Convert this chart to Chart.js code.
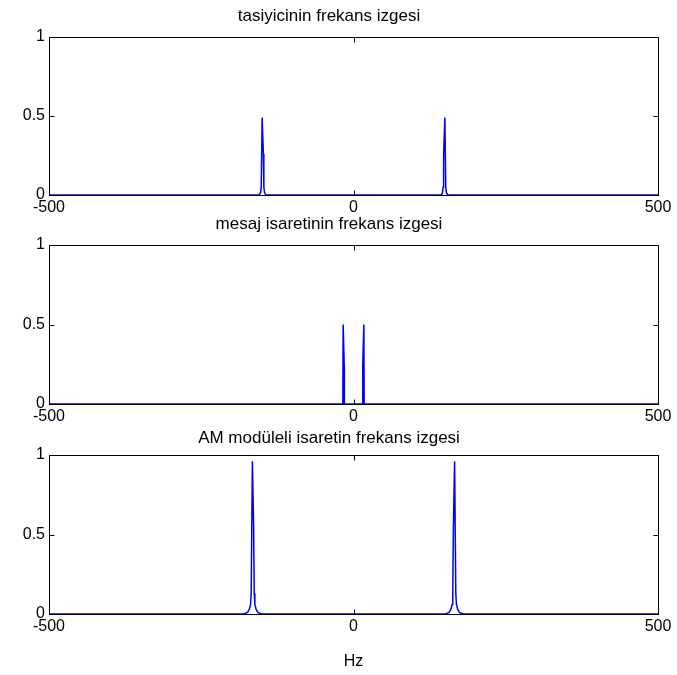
<!DOCTYPE html>
<html><head><meta charset="utf-8">
<script src="https://cdn.jsdelivr.net/npm/chart.js@4.4.1/dist/chart.umd.min.js"></script>
<style>
html,body{margin:0;padding:0;background:#fff;width:677px;height:675px;overflow:hidden;}
canvas{position:absolute;left:0;display:block;}
</style></head><body>
<canvas id="c1" width="677" height="225" style="top:0px;width:677px;height:225px"></canvas>
<canvas id="c2" width="677" height="228" style="top:205px;width:677px;height:228px"></canvas>
<canvas id="c3" width="677" height="260" style="top:415px;width:677px;height:260px"></canvas>
<script>
// ---- data ----
const titles = ["tasiyicinin frekans izgesi", "mesaj isaretinin frekans izgesi", "AM modüleli isaretin frekans izgesi"];
const xAxisTitle = "Hz";
const xTickValues = [-500, 0, 500];
const yTickValues = [0, 0.5, 1];

const carrierHz  = [-500, -155, -152.5, -151.5, -150, -148, -147.2, -146, -144, 144, 146, 147.2, 148, 150, 151.5, 152.5, 155, 500];
const carrierMag = [0, 0, 0.015, 0.05, 0.49, 0.26, 0.05, 0.015, 0, 0, 0.015, 0.05, 0.26, 0.49, 0.05, 0.015, 0, 0];

const messageHz  = [-500, -17.5, -17, -15.2, -15, 15, 15.2, 17, 17.5, 500];
const messageMag = [0, 0, 0.5, 0.24, 0, 0, 0.24, 0.5, 0, 0];

const amHz  = [-500, -180, -174, -171, -169, -168, -166, -164, -163, -162, -160, -157, -151,
               151, 157, 160, 162, 163, 164, 166, 168, 169, 171, 174, 180, 500];
const amMag = [0, 0, 0.01, 0.03, 0.06, 0.13, 0.96, 0.54, 0.13, 0.06, 0.03, 0.01, 0,
               0, 0.01, 0.03, 0.06, 0.13, 0.54, 0.96, 0.13, 0.06, 0.03, 0.01, 0, 0];

// ---- drawing ----
const FONT = "'Liberation Sans', Arial, sans-serif";

const axesBox = {
  id: 'axesBox',
  afterDatasetsDraw(chart) {
    const {ctx, chartArea: a, scales: {x, y}} = chart;
    ctx.save();
    ctx.strokeStyle = '#000';
    ctx.lineWidth = 1;
    const L = Math.round(a.left) + 0.5, R = Math.round(a.right) + 0.5;
    const T = Math.round(a.top) + 0.5, B = Math.round(a.bottom) + 0.5;
    ctx.strokeRect(L, T, R - L, B - T);
    ctx.beginPath();
    xTickValues.forEach(v => {
      const px = Math.round(x.getPixelForValue(v)) + 0.5;
      ctx.moveTo(px, B); ctx.lineTo(px, B - 5);
      ctx.moveTo(px, T); ctx.lineTo(px, T + 5);
    });
    yTickValues.forEach(v => {
      const py = Math.round(y.getPixelForValue(v)) + 0.5;
      ctx.moveTo(L, py); ctx.lineTo(L + 5, py);
      ctx.moveTo(R, py); ctx.lineTo(R - 5, py);
    });
    ctx.stroke();
    ctx.restore();
  }
};

function makeChart(id, xs, ys, title, titlePad, xHeight, showXTitle) {
  const pts = xs.map((v, i) => ({x: v, y: ys[i]}));
  return new Chart(document.getElementById(id), {
    type: 'line',
    data: { datasets: [{ data: pts, borderColor: '#0000ff', borderWidth: 1.5, pointRadius: 0, tension: 0, fill: false }] },
    options: {
      responsive: false,
      animation: false,
      layout: { padding: { left: 0, right: 19, top: 0, bottom: 0 } },
      plugins: {
        legend: { display: false },
        tooltip: { enabled: false },
        title: { display: true, text: title, color: '#000',
                 font: { family: FONT, size: 17, weight: 'normal' },
                 padding: titlePad }
      },
      scales: {
        x: {
          type: 'linear', min: -500, max: 500,
          grid: { display: false, drawTicks: false },
          border: { display: false },
          afterBuildTicks: s => { s.ticks = xTickValues.map(v => ({value: v})); },
          afterFit: s => { s.height = xHeight; },
          ticks: { color: '#000', padding: 3, maxRotation: 0, autoSkip: false, font: { family: FONT, size: 16 },
                   callback: v => String(v) },
          title: { display: showXTitle, text: xAxisTitle, color: '#000', font: { family: FONT, size: 16 }, padding: { top: 0, bottom: 4 } }
        },
        y: {
          min: 0, max: 1,
          grid: { display: false, drawTicks: false },
          border: { display: false },
          afterBuildTicks: s => { s.ticks = yTickValues.map(v => ({value: v})); },
          afterFit: s => { s.width = 49; },
          ticks: { color: '#000', padding: 4, autoSkip: false, font: { family: FONT, size: 16 },
                   callback: v => String(v) }
        }
      }
    },
    plugins: [axesBox]
  });
}

makeChart('c1', carrierHz, carrierMag, titles[0], {top: 5.8, bottom: 10.8}, 30, false);
makeChart('c2', messageHz, messageMag, titles[1], {top: 8.8, bottom: 10.8}, 29, false);
makeChart('c3', amHz, amMag, titles[2], {top: 12.8, bottom: 6.8}, 61, true);
</script>
</body></html>
